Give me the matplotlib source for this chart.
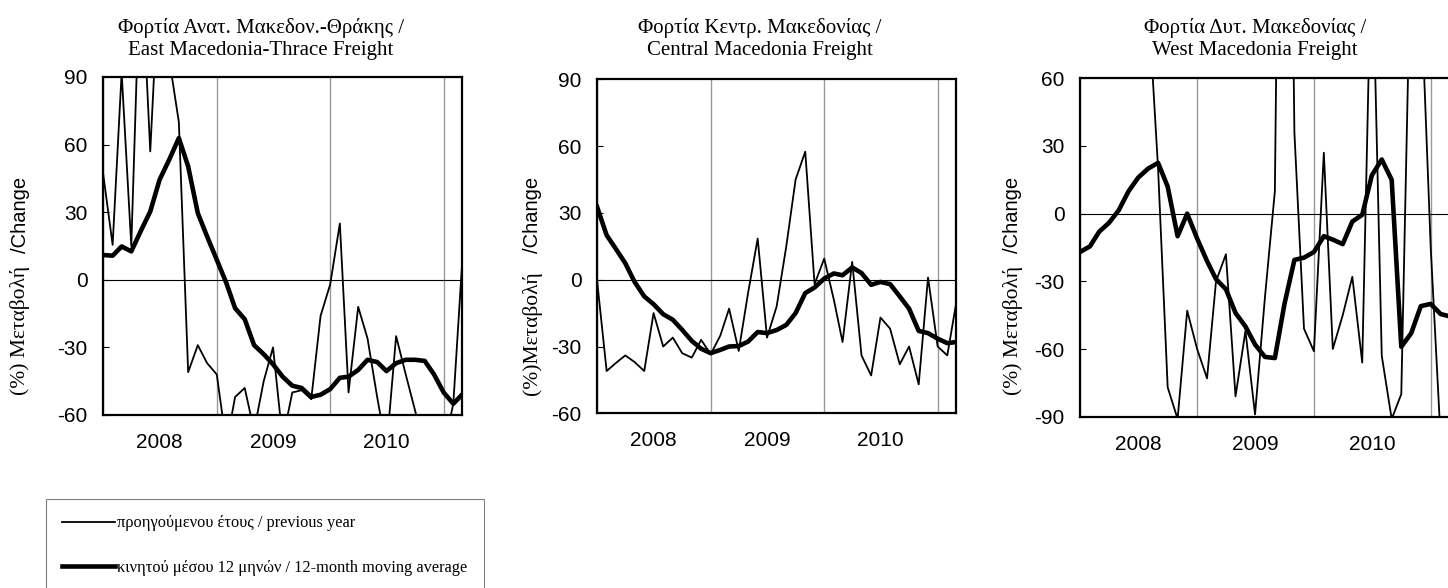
import numpy as np
import pandas as pd
import matplotlib
matplotlib.use("Agg")
import matplotlib.pyplot as plt
import matplotlib.dates as mdates

plt.rcParams["axes.unicode_minus"] = False

# monthly observations, Jan 2008 - Mar 2011
months = pd.date_range("2008-01-01", periods=39, freq="MS")

# East Macedonia-Thrace: % change on previous year / 12-month moving average
prev_em = [47.5, 15.5, 92, 15, 147, 57, 140, 98, 70, -41, -29, -37, -42, -73, -52, -48,
           -67, -45, -30, -71, -50, -49, -53, -16, -2, 25, -50, -12, -26, -52, -75, -25,
           -42, -58, -75, -75, -75, -55, 6.5]
ma_em = [11, 10.7, 14.8, 12.6, 21.5, 30.3, 44.4, 53.3, 62.9, 50.3, 29.6, 19.2, 8.9, -1.5,
         -12.6, -17.5, -29, -33, -37.5, -43, -47, -48, -52, -51, -48.5, -43.5, -43, -40,
         -35.5, -36.5, -40.5, -37, -35.5, -35.5, -36, -42, -50, -55, -51]

# Central Macedonia
prev_cm = [0, -41, -37.5, -34, -37, -41, -15, -30, -26, -33, -35, -27, -33.5, -25, -13, -32,
           -6, 18.5, -26, -12, 15, 45, 57.5, -2, 9.5, -9, -28, 8, -34, -43, -17, -22, -38,
           -30, -47, 1, -30, -34, -11]
ma_cm = [32.8, 20, 14, 7.4, -1, -7.5, -11, -15.5, -18, -22.5, -27.5, -31, -33, -31.5, -30,
         -29.8, -27.8, -23.5, -24, -22.6, -20.3, -15, -6, -3.5, 0.5, 2.8, 2, 5.5, 3, -2.3,
         -1, -2, -7.5, -13, -23, -24, -26.5, -28.5, -28]

# West Macedonia
prev_wm = [100, 100, 100, 100, 100, 100, 100, 95, 20, -77, -91, -43, -60, -73, -30, -18,
           -81, -52, -89, -37, 10, 400, 36, -51, -61, 27, -60, -45, -28, -66, 127, -63,
           -91, -80, 128, 100, -15, -100, -100]
ma_wm = [-17, -14.5, -8, -4, 1.5, 10, 16, 20, 22.5, 12, -10, 0, -11, -21, -29, -33.5, -44,
         -50, -58, -63.5, -64, -40, -20.5, -19.5, -17, -10, -11.5, -13.5, -3.5, -0.5, 17,
         24, 15, -59, -53, -41, -40, -44.5, -45.5]

titles = ["Φορτία Ανατ. Μακεδον.-Θράκης /\nEast Macedonia-Thrace Freight",
          "Φορτία Κεντρ. Μακεδονίας /\nCentral Macedonia Freight",
          "Φορτία Δυτ. Μακεδονίας /\nWest Macedonia Freight"]
greek_labels = ["(%) Μεταβολή", "(%)Μεταβολή", "(%) Μεταβολή"]
legend_labels = ["προηγούμενου έτους / previous year",
                 "κινητού μέσου 12 μηνών / 12-month moving average"]

W, H = 1448, 588
SERIF = "Liberation Serif"
SANS = "Liberation Sans"


def rect(left, top, right, bottom):
    return [left / W, 1 - bottom / H, (right - left) / W, (bottom - top) / H]


panels = [
    dict(prev=prev_em, ma=ma_em, ylim=(-60, 90), box=(103, 77, 462, 415),
         title_x=261, label_x=20),
    dict(prev=prev_cm, ma=ma_cm, ylim=(-60, 90), box=(597, 79.3, 956, 413.3),
         title_x=760, label_x=532),
    dict(prev=prev_wm, ma=ma_wm, ylim=(-90, 60), box=(1080, 78.3, 1449.6, 416.7),
         title_x=1255, label_x=1013),
]

fig = plt.figure(figsize=(W / 100, H / 100), dpi=100)
handles = None

for i, p in enumerate(panels):
    ax = fig.add_axes(rect(*p["box"]))
    ax.set_axisbelow(True)
    l1, = ax.plot(months, p["prev"], color="black", lw=1.3)
    l2, = ax.plot(months, p["ma"], color="black", lw=3.3)
    if handles is None:
        handles = [l1, l2]
    ax.axhline(0, color="black", lw=0.8, zorder=1.5)

    ax.set_xlim(months[0], months[-1])
    ax.set_ylim(*p["ylim"])
    ax.set_yticks(np.arange(p["ylim"][0], p["ylim"][1] + 1, 30))

    ax.xaxis.set_major_locator(mdates.MonthLocator(bymonth=7))
    ax.xaxis.set_major_formatter(mdates.DateFormatter("%Y"))
    ax.xaxis.set_minor_locator(mdates.YearLocator())
    ax.grid(which="minor", axis="x", color="#999999", lw=1.0)
    ax.tick_params(axis="x", which="both", length=0, pad=13)
    ax.tick_params(axis="y", direction="in", length=4, width=0.8, pad=11)
    for lab in ax.get_xticklabels() + ax.get_yticklabels():
        lab.set_fontfamily(SANS)
        lab.set_fontsize(15)
    for s in ax.spines.values():
        s.set_linewidth(1.6)

    fig.text(p["title_x"] / W, 1 - 39 / H, titles[i], ha="center", va="center",
             family=SERIF, fontsize=15, linespacing=1.2)
    fig.text(p["label_x"] / W, 1 - 395 / H, greek_labels[i], rotation=90,
             ha="center", va="bottom", family=SERIF, fontsize=15.5)
    fig.text(p["label_x"] / W, 1 - 253 / H, "/Change", rotation=90,
             ha="center", va="bottom", family=SANS, fontsize=14.5)

leg = fig.legend(handles, legend_labels, loc="upper left",
                 bbox_to_anchor=(45.7 / W, 1 - 499 / H), borderaxespad=0,
                 frameon=True, fancybox=False, edgecolor="#808080", framealpha=1,
                 prop={"family": SERIF, "size": 11.8}, handlelength=3.2,
                 handletextpad=0.15, labelspacing=1.75, borderpad=1.0)
leg.get_frame().set_linewidth(0.8)

fig.savefig("out.png", dpi=100)
